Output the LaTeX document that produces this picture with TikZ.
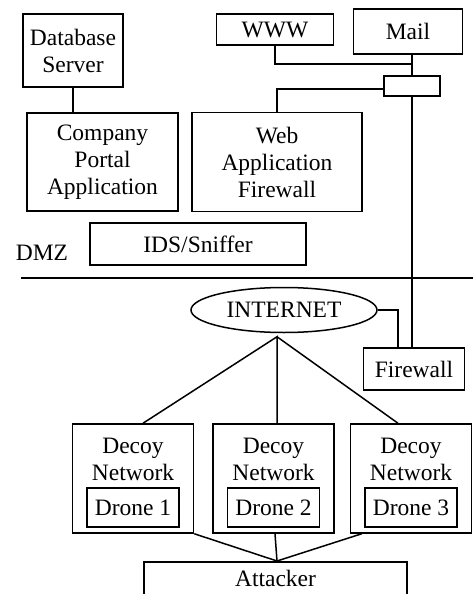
\documentclass[tikz,border=0pt]{standalone}
\usepackage{fontspec}
\setmainfont{Liberation Serif}
\usetikzlibrary{shapes.geometric,calc}
\begin{document}
\begin{tikzpicture}[x=1pt,y=-1pt,line width=1.5pt,
  every node/.style={font=\fontsize{23.5}{27}\selectfont},
  box/.style={draw,rectangle,align=center,inner sep=2pt},
  wire/.style={draw}]
\clip (0,0) rectangle (473,594);
\useasboundingbox (0,0) rectangle (473,594);
% top left
\node[box,minimum width=100pt,minimum height=73pt] (db) at (73,50.5) {Database\\Server};
\node[box,minimum width=151pt,minimum height=98pt] (cpa) at (102.5,162) {Company\\Portal\\Application};
% top right
\node[box,minimum width=117pt,minimum height=31pt] (www) at (275,29.5) {WWW};
\node[box,minimum width=109pt,minimum height=45pt] (mail) at (408,31.5) {Mail};
\node[box,minimum width=56pt,minimum height=20pt] (sw) at (412,86) {};
\node[box,minimum width=170pt,minimum height=99pt] (waf) at (277,162) {Web\\Application\\Firewall};
% DMZ
\node[box,minimum width=216pt,minimum height=42pt] (ids) at (198,244) {IDS/Sniffer};
\node[inner sep=0pt] (dmz) at (42,253) {DMZ};
\coordinate (dl) at (21,278);
\coordinate (dr) at (475,278);
% outside
\node[draw,ellipse,minimum width=186pt,minimum height=45pt,inner sep=0pt] (inet) at (284,310) {INTERNET};
\node[box,minimum width=101pt,minimum height=42pt] (fw) at (414,369) {Firewall};
% decoys
\foreach \i/\x in {1/133,2/273.5,3/411} {
  \node[box,minimum width=121pt,minimum height=109pt] (d\i) at (\x,478.5) {};
  \node[inner sep=0pt,align=center] (d\i t) at (\x,459) {Decoy\\Network};
  \node[box,minimum width=92pt,minimum height=39pt] (dr\i) at (\x,507.5) {Drone \i};
}
\node[draw,rectangle,anchor=north,minimum width=263pt,inner xsep=0pt,inner ysep=0pt,text height=25pt,text depth=30pt] (att) at (275.5,561) {Attacker};
% connectors
\draw (db.south) -- (db.south |- cpa.north);
\coordinate (j1) at (412,64);
\draw (www.south) |- (j1);
\draw (mail.south -| sw.north) -- (sw.north);
\draw ([yshift=-3pt]sw.west) -| (waf.north);
\draw (sw.south) -- (sw.south |- fw.north);
\draw (dl) -- (dr);
\draw (inet.east) -| ([xshift=-16pt]fw.north);
\coordinate (ap) at ($(inet.south)+(-7,3.5)$);
\draw ([xshift=10pt]d1.north) -- (ap) -- ([xshift=3.5pt]d2.north);
\draw (ap) -- ([xshift=-13pt]d3.north);
\draw (d1.south east) -- ([xshift=1.5pt]att.north);
\draw ([xshift=1.5pt]d2.south) -- ([xshift=1.5pt]att.north);
\draw ([xshift=12pt]d3.south west) -- ([xshift=1.5pt]att.north);
\end{tikzpicture}
\end{document}
